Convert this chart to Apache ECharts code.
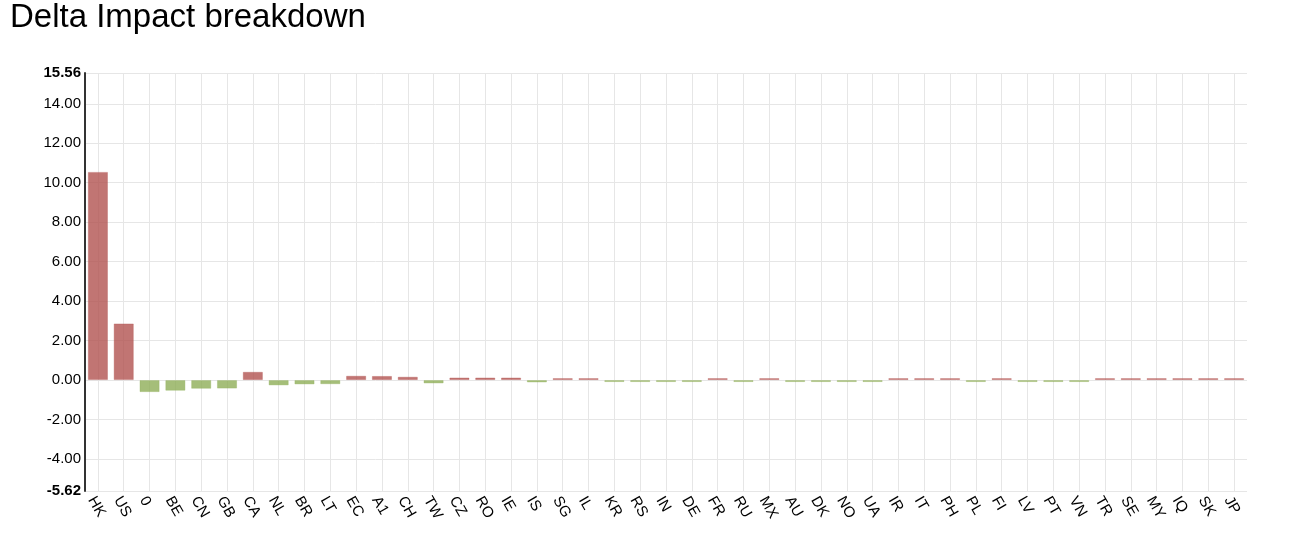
<!DOCTYPE html>
<html>
<head>
<meta charset="utf-8">
<script src="https://cdn.jsdelivr.net/npm/echarts@6/dist/echarts.min.js"></script>
<style>
  html, body { margin: 0; padding: 0; background: #fff; }
  #chart { width: 1291px; height: 536px; }
</style>
</head>
<body>
<div id="chart"></div>
<script>
var countries = ['HK', 'US', '0', 'BE', 'CN', 'GB', 'CA', 'NL', 'BR', 'LT', 'EC', 'A1', 'CH', 'TW', 'CZ',
    'RO', 'IE', 'IS', 'SG', 'IL', 'KR', 'RS', 'IN', 'DE', 'FR', 'RU', 'MX', 'AU', 'DK', 'NO',
    'UA', 'IR', 'IT', 'PH', 'PL', 'FI', 'LV', 'PT', 'VN', 'TR', 'SE', 'MY', 'IQ', 'SK', 'JP'];
var impact = [10.55, 2.87, -0.61, -0.54, -0.44, -0.43, 0.42, -0.27, -0.22, -0.21, 0.22, 0.21, 0.17, -0.17, 0.13,
    0.13, 0.13, -0.12, 0.10, 0.10, -0.09, -0.09, -0.08, -0.06, 0.06, -0.05, 0.05, -0.05, -0.05, -0.04,
    -0.04, 0.04, 0.04, 0.04, -0.04, 0.04, -0.04, -0.04, -0.04, 0.03, 0.03, 0.03, 0.03, 0.03, 0.03];
var yMin = -5.62;
var yMax = 15.56;

var font = 'Arial, "Liberation Sans", sans-serif';

// positive impact red, negative green
var barData = impact.map(function (v) {
    var pos = v >= 0;
    return {
        value: v,
        itemStyle: {
            color: pos ? 'rgba(178, 82, 80, 0.8)' : 'rgba(143, 174, 88, 0.8)',
            borderColor: pos ? 'rgba(178, 82, 80, 0.35)' : 'rgba(143, 174, 88, 0.35)',
            borderWidth: 1
        }
    };
});

var myChart = echarts.init(document.getElementById('chart'));

var option = {
    animation: false,
    title: {
        text: 'Delta Impact breakdown',
        left: 10,
        top: 1,
        padding: 0,
        textStyle: { fontFamily: font, fontSize: 33, fontWeight: 'normal', color: '#000' }
    },
    grid: { left: 85, right: 44, top: 73, bottom: 45 },
    xAxis: {
        type: 'category',
        data: countries,
        axisLine: { show: false },
        axisTick: { show: false },
        axisLabel: {
            interval: 0,
            rotate: -60,
            margin: 3,
            align: 'left',
            verticalAlign: 'top',
            fontFamily: font,
            fontSize: 15,
            color: '#000'
        },
        splitLine: {
            show: true,
            alignWithLabel: true,
            lineStyle: { color: '#e6e6e6', width: 1 }
        }
    },
    yAxis: {
        type: 'value',
        min: yMin,
        max: yMax,
        splitNumber: 10,
        axisLine: { show: true, lineStyle: { color: '#333', width: 2 } },
        axisTick: { show: false },
        axisLabel: {
            margin: 4,
            fontFamily: font,
            fontSize: 15,
            color: '#000',
            showMinLabel: true,
            showMaxLabel: true,
            formatter: function (v) {
                var s = v.toFixed(2);
                if (Math.abs(v - yMin) < 1e-6 || Math.abs(v - yMax) < 1e-6) {
                    return '{b|' + s + '}';
                }
                return s;
            },
            rich: {
                b: { fontFamily: font, fontSize: 15, fontWeight: 'bold', color: '#000' }
            }
        },
        splitLine: { lineStyle: { color: '#e6e6e6', width: 1 } }
    },
    series: [{
        type: 'bar',
        data: barData,
        barCategoryGap: '22%',
        barMinHeight: 2
    }]
};

myChart.setOption(option);
</script>
</body>
</html>
